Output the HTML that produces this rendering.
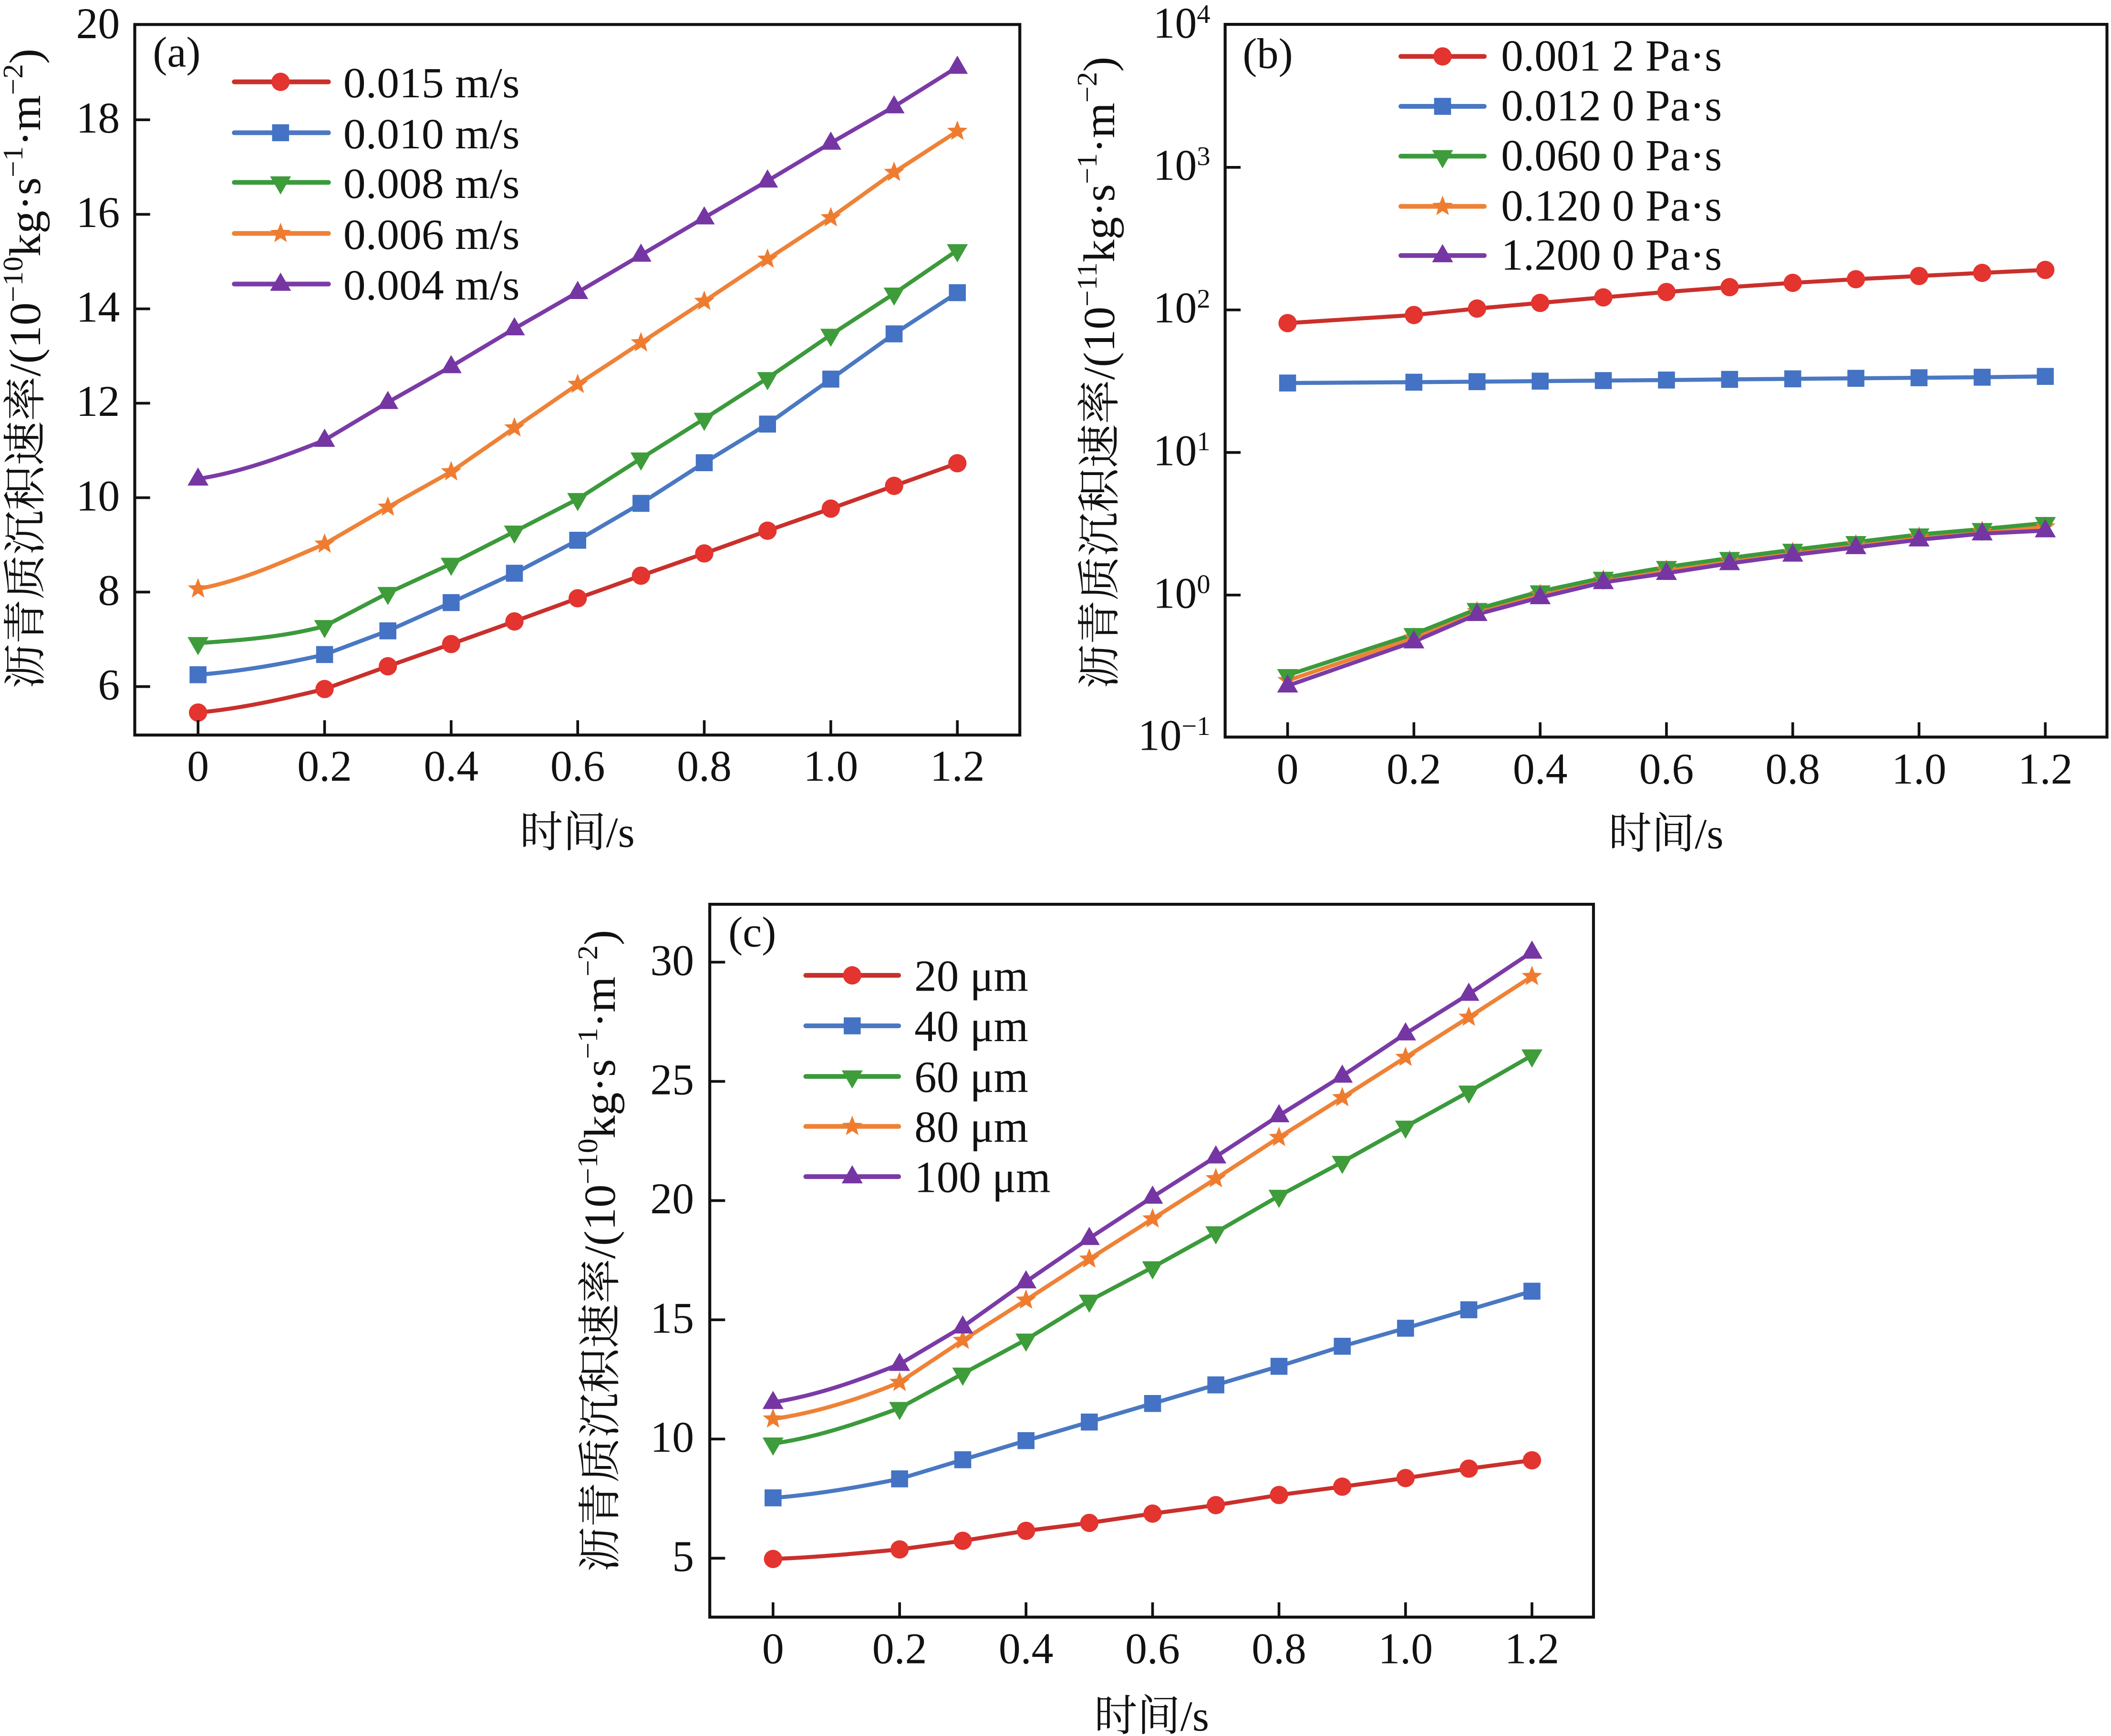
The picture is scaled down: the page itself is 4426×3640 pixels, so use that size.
<!DOCTYPE html>
<html><head><meta charset="utf-8"><style>
html,body{margin:0;padding:0;background:#fff;}
svg{display:block;}
text{font-family:"Liberation Serif","Noto Serif CJK SC",serif;fill:#111;}
</style></head><body>
<svg xmlns="http://www.w3.org/2000/svg" width="4426" height="3640" viewBox="0 0 1568 1289.5" preserveAspectRatio="none">
<defs>
<g id="mr"><circle r="6.8" fill="#e3342f"/></g>
<g id="mb"><rect x="-6.3" y="-6.3" width="12.6" height="12.6" fill="#4472c4"/></g>
<g id="mg"><path d="M-7.8,-4.5L7.8,-4.5L0,9Z" fill="#3e9c3a"/></g>
<g id="mo"><path d="M0,-8L2,-2.75L7.61,-2.47L3.23,1.05L4.7,6.47L0,3.4L-4.7,6.47L-3.23,1.05L-7.61,-2.47L-2,-2.75Z" fill="#ef7b2f"/></g>
<g id="mp"><path d="M0,-8.5L7.8,5L-7.8,5Z" fill="#7535a2"/></g>
</defs>
<rect width="1568" height="1289.5" fill="#fff"/>

<!-- ================= PANEL (a) ================= -->
<g fill="none" stroke-linejoin="round" stroke-linecap="round" stroke-width="3">
<path stroke="#c9302c" d="M147.1,529.3 C178.4,526.4 209.8,519.4 241.1,511.8 L288.1,494.9 335.1,478.4 382.1,461.6 429.1,444.4 476.1,427.6 523.1,411.1 570.1,394.2 617.1,377.8 664.1,360.9 711.1,344.1"/>
<path stroke="#4a78c2" d="M147.1,501.2 C178.4,498.7 209.8,493.4 241.1,486.2 L288.1,468.6 335.1,447.6 382.1,425.8 429.1,401.3 476.1,373.9 523.1,343.7 570.1,315.0 617.1,281.6 664.1,248.0 711.1,217.4"/>
<path stroke="#3b9a3b" d="M147.1,477.7 C178.4,475.6 209.8,473.4 241.1,465.1 L288.1,440.5 335.1,418.8 382.1,394.9 429.1,370.7 476.1,340.6 523.1,311.1 570.1,280.9 617.1,248.7 664.1,218.1 711.1,185.9"/>
<path stroke="#ee8237" d="M147.1,437.4 C178.4,431.9 209.8,417.6 241.1,404.1 L288.1,376.7 335.1,350.4 382.1,317.8 429.1,285.5 476.1,254.6 523.1,223.8 570.1,192.5 617.1,161.7 664.1,128.0 711.1,97.5"/>
<path stroke="#7b3ba6" d="M147.1,355.7 C178.4,350.9 209.8,339.5 241.1,326.9 L288.1,298.8 335.1,272.2 382.1,244.1 429.1,217.1 476.1,189.4 523.1,161.7 570.1,134.3 617.1,106.2 664.1,79.2 711.1,49.8"/>
</g>
<g>
<use href="#mr" x="147.1" y="529.3"/><use href="#mr" x="241.1" y="511.8"/><use href="#mr" x="288.1" y="494.9"/><use href="#mr" x="335.1" y="478.4"/><use href="#mr" x="382.1" y="461.6"/><use href="#mr" x="429.1" y="444.4"/><use href="#mr" x="476.1" y="427.6"/><use href="#mr" x="523.1" y="411.1"/><use href="#mr" x="570.1" y="394.2"/><use href="#mr" x="617.1" y="377.8"/><use href="#mr" x="664.1" y="360.9"/><use href="#mr" x="711.1" y="344.1"/>
<use href="#mb" x="147.1" y="501.2"/><use href="#mb" x="241.1" y="486.2"/><use href="#mb" x="288.1" y="468.6"/><use href="#mb" x="335.1" y="447.6"/><use href="#mb" x="382.1" y="425.8"/><use href="#mb" x="429.1" y="401.3"/><use href="#mb" x="476.1" y="373.9"/><use href="#mb" x="523.1" y="343.7"/><use href="#mb" x="570.1" y="315.0"/><use href="#mb" x="617.1" y="281.6"/><use href="#mb" x="664.1" y="248.0"/><use href="#mb" x="711.1" y="217.4"/>
<use href="#mg" x="147.1" y="477.7"/><use href="#mg" x="241.1" y="465.1"/><use href="#mg" x="288.1" y="440.5"/><use href="#mg" x="335.1" y="418.8"/><use href="#mg" x="382.1" y="394.9"/><use href="#mg" x="429.1" y="370.7"/><use href="#mg" x="476.1" y="340.6"/><use href="#mg" x="523.1" y="311.1"/><use href="#mg" x="570.1" y="280.9"/><use href="#mg" x="617.1" y="248.7"/><use href="#mg" x="664.1" y="218.1"/><use href="#mg" x="711.1" y="185.9"/>
<use href="#mo" x="147.1" y="437.4"/><use href="#mo" x="241.1" y="404.1"/><use href="#mo" x="288.1" y="376.7"/><use href="#mo" x="335.1" y="350.4"/><use href="#mo" x="382.1" y="317.8"/><use href="#mo" x="429.1" y="285.5"/><use href="#mo" x="476.1" y="254.6"/><use href="#mo" x="523.1" y="223.8"/><use href="#mo" x="570.1" y="192.5"/><use href="#mo" x="617.1" y="161.7"/><use href="#mo" x="664.1" y="128.0"/><use href="#mo" x="711.1" y="97.5"/>
<use href="#mp" x="147.1" y="355.7"/><use href="#mp" x="241.1" y="326.9"/><use href="#mp" x="288.1" y="298.8"/><use href="#mp" x="335.1" y="272.2"/><use href="#mp" x="382.1" y="244.1"/><use href="#mp" x="429.1" y="217.1"/><use href="#mp" x="476.1" y="189.4"/><use href="#mp" x="523.1" y="161.7"/><use href="#mp" x="570.1" y="134.3"/><use href="#mp" x="617.1" y="106.2"/><use href="#mp" x="664.1" y="79.2"/><use href="#mp" x="711.1" y="49.8"/>
</g>
<rect x="100.1" y="18.2" width="657.4" height="527.8" fill="none" stroke="#111" stroke-width="2.2"/>
<g stroke="#111" stroke-width="2">
<line x1="100.1" y1="510" x2="111.5" y2="510"/><line x1="100.1" y1="439.8" x2="111.5" y2="439.8"/><line x1="100.1" y1="369.7" x2="111.5" y2="369.7"/><line x1="100.1" y1="299.5" x2="111.5" y2="299.5"/><line x1="100.1" y1="229.4" x2="111.5" y2="229.4"/><line x1="100.1" y1="159.2" x2="111.5" y2="159.2"/><line x1="100.1" y1="89" x2="111.5" y2="89"/>
<line x1="147.1" y1="546" x2="147.1" y2="535"/><line x1="241.1" y1="546" x2="241.1" y2="535"/><line x1="335.1" y1="546" x2="335.1" y2="535"/><line x1="429.1" y1="546" x2="429.1" y2="535"/><line x1="523.1" y1="546" x2="523.1" y2="535"/><line x1="617.1" y1="546" x2="617.1" y2="535"/><line x1="711.1" y1="546" x2="711.1" y2="535"/>
</g>
<g font-size="32.5" text-anchor="end">
<text x="89" y="519.5">6</text><text x="89" y="449.3">8</text><text x="89" y="379.2">10</text><text x="89" y="309">12</text><text x="89" y="238.9">14</text><text x="89" y="168.7">16</text><text x="89" y="98.5">18</text><text x="89" y="28.4">20</text>
</g>
<g font-size="32.5" text-anchor="middle">
<text x="147.1" y="580">0</text><text x="241.1" y="580">0.2</text><text x="335.1" y="580">0.4</text><text x="429.1" y="580">0.6</text><text x="523.1" y="580">0.8</text><text x="617.1" y="580">1.0</text><text x="711.1" y="580">1.2</text>
</g>
<text x="428.8" y="629" font-size="32" text-anchor="middle">时间/s</text>
<text transform="translate(29.7,511.6) rotate(-90)" textLength="475.5" lengthAdjust="spacingAndGlyphs"><tspan font-size="32">沥青质沉积速率</tspan><tspan font-size="33">/(10</tspan><tspan font-size="21" dy="-13">−10</tspan><tspan font-size="33" dy="13">kg·s</tspan><tspan font-size="21" dy="-13">−1</tspan><tspan font-size="33" dy="13">·m</tspan><tspan font-size="21" dy="-13">−2</tspan><tspan font-size="33" dy="13">)</tspan></text>
<text x="113.5" y="49.5" font-size="32">(a)</text>
<g fill="none" stroke-width="3.5" stroke-linecap="round">
<line x1="174" y1="60.8" x2="244" y2="60.8" stroke="#c9302c"/>
<line x1="174" y1="98.6" x2="244" y2="98.6" stroke="#4a78c2"/>
<line x1="174" y1="135.5" x2="244" y2="135.5" stroke="#3b9a3b"/>
<line x1="174" y1="173.4" x2="244" y2="173.4" stroke="#ee8237"/>
<line x1="174" y1="211" x2="244" y2="211" stroke="#7b3ba6"/>
</g>
<use href="#mr" x="208.4" y="60.8"/><use href="#mb" x="208.4" y="98.6"/><use href="#mg" x="208.4" y="135.5"/><use href="#mo" x="208.4" y="173.4"/><use href="#mp" x="208.4" y="211"/>
<g font-size="32">
<text x="255" y="72.3" textLength="131" lengthAdjust="spacingAndGlyphs">0.015 m/s</text>
<text x="255" y="110.1" textLength="131" lengthAdjust="spacingAndGlyphs">0.010 m/s</text>
<text x="255" y="147" textLength="131" lengthAdjust="spacingAndGlyphs">0.008 m/s</text>
<text x="255" y="184.9" textLength="131" lengthAdjust="spacingAndGlyphs">0.006 m/s</text>
<text x="255" y="222.5" textLength="131" lengthAdjust="spacingAndGlyphs">0.004 m/s</text>
</g>

<!-- ================= PANEL (b) ================= -->
<g fill="none" stroke-linejoin="round" stroke-linecap="round" stroke-width="3">
<polyline stroke="#c9302c" points="956.4,240 1050.2,234 1097.1,229.2 1144,225 1190.9,220.9 1237.8,216.9 1284.7,213.3 1331.6,210.1 1378.5,207.4 1425.4,205 1472.3,202.7 1519.2,200.5"/>
<polyline stroke="#4a78c2" points="956.4,284.5 1050.2,283.9 1097.1,283.5 1144,283.1 1190.9,282.7 1237.8,282.3 1284.7,281.8 1331.6,281.4 1378.5,281 1425.4,280.6 1472.3,280.2 1519.2,279.6"/>
<polyline stroke="#ee8237" points="956.4,505.5 1050.2,473.8 1097.1,454.3 1144,441.5 1190.9,430.9 1237.8,423.5 1284.7,416.5 1331.6,410.3 1378.5,404.6 1425.4,398.9 1472.3,394.7 1519.2,391.3"/>
<polyline stroke="#3b9a3b" points="956.4,501.5 1050.2,471 1097.1,452.4 1144,439.3 1190.9,429.2 1237.8,421.2 1284.7,414.5 1331.6,408.4 1378.5,402.7 1425.4,397 1472.3,393 1519.2,388.5"/>
<polyline stroke="#7b3ba6" points="956.4,509.4 1050.2,476.6 1097.1,456.3 1144,443.8 1190.9,432.6 1237.8,425.8 1284.7,418.5 1331.6,412.2 1378.5,406.6 1425.4,400.9 1472.3,396.4 1519.2,394.1"/>
</g>
<g>
<use href="#mr" x="956.4" y="240"/><use href="#mr" x="1050.2" y="234"/><use href="#mr" x="1097.1" y="229.2"/><use href="#mr" x="1144" y="225"/><use href="#mr" x="1190.9" y="220.9"/><use href="#mr" x="1237.8" y="216.9"/><use href="#mr" x="1284.7" y="213.3"/><use href="#mr" x="1331.6" y="210.1"/><use href="#mr" x="1378.5" y="207.4"/><use href="#mr" x="1425.4" y="205"/><use href="#mr" x="1472.3" y="202.7"/><use href="#mr" x="1519.2" y="200.5"/>
<use href="#mb" x="956.4" y="284.5"/><use href="#mb" x="1050.2" y="283.9"/><use href="#mb" x="1097.1" y="283.5"/><use href="#mb" x="1144" y="283.1"/><use href="#mb" x="1190.9" y="282.7"/><use href="#mb" x="1237.8" y="282.3"/><use href="#mb" x="1284.7" y="281.8"/><use href="#mb" x="1331.6" y="281.4"/><use href="#mb" x="1378.5" y="281"/><use href="#mb" x="1425.4" y="280.6"/><use href="#mb" x="1472.3" y="280.2"/><use href="#mb" x="1519.2" y="279.6"/>
<use href="#mo" x="956.4" y="505.5"/><use href="#mo" x="1050.2" y="473.8"/><use href="#mo" x="1097.1" y="454.3"/><use href="#mo" x="1144" y="441.5"/><use href="#mo" x="1190.9" y="430.9"/><use href="#mo" x="1237.8" y="423.5"/><use href="#mo" x="1284.7" y="416.5"/><use href="#mo" x="1331.6" y="410.3"/><use href="#mo" x="1378.5" y="404.6"/><use href="#mo" x="1425.4" y="398.9"/><use href="#mo" x="1472.3" y="394.7"/><use href="#mo" x="1519.2" y="391.3"/>
<use href="#mg" x="956.4" y="501.5"/><use href="#mg" x="1050.2" y="471"/><use href="#mg" x="1097.1" y="452.4"/><use href="#mg" x="1144" y="439.3"/><use href="#mg" x="1190.9" y="429.2"/><use href="#mg" x="1237.8" y="421.2"/><use href="#mg" x="1284.7" y="414.5"/><use href="#mg" x="1331.6" y="408.4"/><use href="#mg" x="1378.5" y="402.7"/><use href="#mg" x="1425.4" y="397"/><use href="#mg" x="1472.3" y="393"/><use href="#mg" x="1519.2" y="388.5"/>
<use href="#mp" x="956.4" y="509.4"/><use href="#mp" x="1050.2" y="476.6"/><use href="#mp" x="1097.1" y="456.3"/><use href="#mp" x="1144" y="443.8"/><use href="#mp" x="1190.9" y="432.6"/><use href="#mp" x="1237.8" y="425.8"/><use href="#mp" x="1284.7" y="418.5"/><use href="#mp" x="1331.6" y="412.2"/><use href="#mp" x="1378.5" y="406.6"/><use href="#mp" x="1425.4" y="400.9"/><use href="#mp" x="1472.3" y="396.4"/><use href="#mp" x="1519.2" y="394.1"/>
</g>
<rect x="910" y="18.1" width="655" height="529.4" fill="none" stroke="#111" stroke-width="2.2"/>
<g stroke="#111" stroke-width="2">
<line x1="910" y1="124.3" x2="921.5" y2="124.3"/><line x1="910" y1="230.2" x2="921.5" y2="230.2"/><line x1="910" y1="336.1" x2="921.5" y2="336.1"/><line x1="910" y1="442" x2="921.5" y2="442"/>
<line x1="956.4" y1="547.5" x2="956.4" y2="536.5"/><line x1="1050.2" y1="547.5" x2="1050.2" y2="536.5"/><line x1="1144" y1="547.5" x2="1144" y2="536.5"/><line x1="1237.8" y1="547.5" x2="1237.8" y2="536.5"/><line x1="1331.6" y1="547.5" x2="1331.6" y2="536.5"/><line x1="1425.4" y1="547.5" x2="1425.4" y2="536.5"/><line x1="1519.2" y1="547.5" x2="1519.2" y2="536.5"/>
</g>
<g font-size="32.5" text-anchor="end">
<text x="899" y="28">10<tspan font-size="20" dy="-11">4</tspan></text>
<text x="899" y="133.5">10<tspan font-size="20" dy="-11">3</tspan></text>
<text x="899" y="239.5">10<tspan font-size="20" dy="-11">2</tspan></text>
<text x="899" y="345.5">10<tspan font-size="20" dy="-11">1</tspan></text>
<text x="899" y="451.5">10<tspan font-size="20" dy="-11">0</tspan></text>
<text x="899" y="557">10<tspan font-size="20" dy="-11">−1</tspan></text>
</g>
<g font-size="32.5" text-anchor="middle">
<text x="956.4" y="582">0</text><text x="1050.2" y="582">0.2</text><text x="1144" y="582">0.4</text><text x="1237.8" y="582">0.6</text><text x="1331.6" y="582">0.8</text><text x="1425.4" y="582">1.0</text><text x="1519.2" y="582">1.2</text>
</g>
<text x="1237.5" y="630" font-size="32" text-anchor="middle">时间/s</text>
<text transform="translate(827.5,511.6) rotate(-90)" textLength="469.5" lengthAdjust="spacingAndGlyphs"><tspan font-size="32">沥青质沉积速率</tspan><tspan font-size="33">/(10</tspan><tspan font-size="21" dy="-13">−11</tspan><tspan font-size="33" dy="13">kg·s</tspan><tspan font-size="21" dy="-13">−1</tspan><tspan font-size="33" dy="13">·m</tspan><tspan font-size="21" dy="-13">−2</tspan><tspan font-size="33" dy="13">)</tspan></text>
<text x="923" y="50.5" font-size="32">(b)</text>
<g fill="none" stroke-width="3.5" stroke-linecap="round">
<line x1="1040.5" y1="41.9" x2="1102.5" y2="41.9" stroke="#c9302c"/>
<line x1="1040.5" y1="79" x2="1102.5" y2="79" stroke="#4a78c2"/>
<line x1="1040.5" y1="116" x2="1102.5" y2="116" stroke="#3b9a3b"/>
<line x1="1040.5" y1="153.3" x2="1102.5" y2="153.3" stroke="#ee8237"/>
<line x1="1040.5" y1="189.8" x2="1102.5" y2="189.8" stroke="#7b3ba6"/>
</g>
<use href="#mr" x="1071.5" y="41.9"/><use href="#mb" x="1071.5" y="79"/><use href="#mg" x="1071.5" y="116"/><use href="#mo" x="1071.5" y="153.3"/><use href="#mp" x="1071.5" y="189.8"/>
<g font-size="33">
<text x="1115" y="52.4" textLength="164" lengthAdjust="spacingAndGlyphs">0.001 2 Pa·s</text>
<text x="1115" y="89.5" textLength="164" lengthAdjust="spacingAndGlyphs">0.012 0 Pa·s</text>
<text x="1115" y="126.5" textLength="164" lengthAdjust="spacingAndGlyphs">0.060 0 Pa·s</text>
<text x="1115" y="163.8" textLength="164" lengthAdjust="spacingAndGlyphs">0.120 0 Pa·s</text>
<text x="1115" y="200.3" textLength="164" lengthAdjust="spacingAndGlyphs">1.200 0 Pa·s</text>
</g>

<!-- ================= PANEL (c) ================= -->
<g fill="none" stroke-linejoin="round" stroke-linecap="round" stroke-width="3">
<path stroke="#c9302c" d="M574.2,1158 C605.5,1156.8 636.9,1153.9 668.2,1150.9 L715.1,1144.5 762.1,1137.1 809.1,1131.2 856.1,1124.3 903.1,1118 950,1110.5 997,1104.3 1044,1097.9 1091,1090.9 1137.9,1084.7"/>
<path stroke="#4a78c2" d="M574.2,1112.6 C605.5,1110.3 636.9,1104.8 668.2,1098.5 L715.1,1084.3 762.1,1070.1 809.1,1056.3 856.1,1042.5 903.1,1028.7 950,1014.9 997,1000 1044,986.6 1091,972.9 1137.9,959.1"/>
<path stroke="#3b9a3b" d="M574.2,1072.3 C605.5,1067.9 636.9,1057.4 668.2,1045.9 L715.1,1020.4 762.1,995.1 809.1,966.2 856.1,941.4 903.1,915.4 950,888.3 997,863.1 1044,836.9 1091,810.9 1137.9,784"/>
<path stroke="#ee8237" d="M574.2,1054 C605.5,1049.5 636.9,1039.8 668.2,1026.8 L715.1,995.6 762.1,965.7 809.1,935.2 856.1,905.4 903.1,875.5 950,844.9 997,815.3 1044,785.4 1091,755.6 1137.9,725.3"/>
<path stroke="#7b3ba6" d="M574.2,1041.6 C605.5,1036.9 636.9,1025.8 668.2,1013.3 L715.1,985.5 762.1,952 809.1,919.8 856.1,889.1 903.1,859.2 950,828.6 997,799.2 1044,767.8 1091,738.4 1137.9,707.1"/>
</g>
<g>
<use href="#mr" x="574.2" y="1158"/><use href="#mr" x="668.2" y="1150.9"/><use href="#mr" x="715.1" y="1144.5"/><use href="#mr" x="762.1" y="1137.1"/><use href="#mr" x="809.1" y="1131.2"/><use href="#mr" x="856.1" y="1124.3"/><use href="#mr" x="903.1" y="1118"/><use href="#mr" x="950" y="1110.5"/><use href="#mr" x="997" y="1104.3"/><use href="#mr" x="1044" y="1097.9"/><use href="#mr" x="1091" y="1090.9"/><use href="#mr" x="1137.9" y="1084.7"/>
<use href="#mb" x="574.2" y="1112.6"/><use href="#mb" x="668.2" y="1098.5"/><use href="#mb" x="715.1" y="1084.3"/><use href="#mb" x="762.1" y="1070.1"/><use href="#mb" x="809.1" y="1056.3"/><use href="#mb" x="856.1" y="1042.5"/><use href="#mb" x="903.1" y="1028.7"/><use href="#mb" x="950" y="1014.9"/><use href="#mb" x="997" y="1000"/><use href="#mb" x="1044" y="986.6"/><use href="#mb" x="1091" y="972.9"/><use href="#mb" x="1137.9" y="959.1"/>
<use href="#mg" x="574.2" y="1072.3"/><use href="#mg" x="668.2" y="1045.9"/><use href="#mg" x="715.1" y="1020.4"/><use href="#mg" x="762.1" y="995.1"/><use href="#mg" x="809.1" y="966.2"/><use href="#mg" x="856.1" y="941.4"/><use href="#mg" x="903.1" y="915.4"/><use href="#mg" x="950" y="888.3"/><use href="#mg" x="997" y="863.1"/><use href="#mg" x="1044" y="836.9"/><use href="#mg" x="1091" y="810.9"/><use href="#mg" x="1137.9" y="784"/>
<use href="#mo" x="574.2" y="1054"/><use href="#mo" x="668.2" y="1026.8"/><use href="#mo" x="715.1" y="995.6"/><use href="#mo" x="762.1" y="965.7"/><use href="#mo" x="809.1" y="935.2"/><use href="#mo" x="856.1" y="905.4"/><use href="#mo" x="903.1" y="875.5"/><use href="#mo" x="950" y="844.9"/><use href="#mo" x="997" y="815.3"/><use href="#mo" x="1044" y="785.4"/><use href="#mo" x="1091" y="755.6"/><use href="#mo" x="1137.9" y="725.3"/>
<use href="#mp" x="574.2" y="1041.6"/><use href="#mp" x="668.2" y="1013.3"/><use href="#mp" x="715.1" y="985.5"/><use href="#mp" x="762.1" y="952"/><use href="#mp" x="809.1" y="919.8"/><use href="#mp" x="856.1" y="889.1"/><use href="#mp" x="903.1" y="859.2"/><use href="#mp" x="950" y="828.6"/><use href="#mp" x="997" y="799.2"/><use href="#mp" x="1044" y="767.8"/><use href="#mp" x="1091" y="738.4"/><use href="#mp" x="1137.9" y="707.1"/>
</g>
<rect x="527.2" y="671.7" width="656.4" height="529.5" fill="none" stroke="#111" stroke-width="2.2"/>
<g stroke="#111" stroke-width="2">
<line x1="527.2" y1="1157.45" x2="538.6" y2="1157.45"/><line x1="527.2" y1="1068.9" x2="538.6" y2="1068.9"/><line x1="527.2" y1="980.35" x2="538.6" y2="980.35"/><line x1="527.2" y1="891.8" x2="538.6" y2="891.8"/><line x1="527.2" y1="803.25" x2="538.6" y2="803.25"/><line x1="527.2" y1="714.7" x2="538.6" y2="714.7"/>
<line x1="574.2" y1="1201.2" x2="574.2" y2="1190.2"/><line x1="668.2" y1="1201.2" x2="668.2" y2="1190.2"/><line x1="762.1" y1="1201.2" x2="762.1" y2="1190.2"/><line x1="856.1" y1="1201.2" x2="856.1" y2="1190.2"/><line x1="950" y1="1201.2" x2="950" y2="1190.2"/><line x1="1044" y1="1201.2" x2="1044" y2="1190.2"/><line x1="1137.9" y1="1201.2" x2="1137.9" y2="1190.2"/>
</g>
<g font-size="32.5" text-anchor="end">
<text x="515.5" y="1167">5</text><text x="515.5" y="1078.4">10</text><text x="515.5" y="989.9">15</text><text x="515.5" y="901.3">20</text><text x="515.5" y="812.8">25</text><text x="515.5" y="724.2">30</text>
</g>
<g font-size="32.5" text-anchor="middle">
<text x="574.2" y="1235.5">0</text><text x="668.2" y="1235.5">0.2</text><text x="762.1" y="1235.5">0.4</text><text x="856.1" y="1235.5">0.6</text><text x="950" y="1235.5">0.8</text><text x="1044" y="1235.5">1.0</text><text x="1137.9" y="1235.5">1.2</text>
</g>
<text x="855.4" y="1285.5" font-size="32" text-anchor="middle">时间/s</text>
<text transform="translate(456.6,1167.7) rotate(-90)" textLength="477" lengthAdjust="spacingAndGlyphs"><tspan font-size="32">沥青质沉积速率</tspan><tspan font-size="33">/(10</tspan><tspan font-size="21" dy="-13">−10</tspan><tspan font-size="33" dy="13">kg·s</tspan><tspan font-size="21" dy="-13">−1</tspan><tspan font-size="33" dy="13">·m</tspan><tspan font-size="21" dy="-13">−2</tspan><tspan font-size="33" dy="13">)</tspan></text>
<text x="541" y="703" font-size="32">(c)</text>
<g fill="none" stroke-width="3.5" stroke-linecap="round">
<line x1="598.5" y1="724.5" x2="667.5" y2="724.5" stroke="#c9302c"/>
<line x1="598.5" y1="762" x2="667.5" y2="762" stroke="#4a78c2"/>
<line x1="598.5" y1="799.6" x2="667.5" y2="799.6" stroke="#3b9a3b"/>
<line x1="598.5" y1="836.7" x2="667.5" y2="836.7" stroke="#ee8237"/>
<line x1="598.5" y1="874" x2="667.5" y2="874" stroke="#7b3ba6"/>
</g>
<use href="#mr" x="633" y="724.5"/><use href="#mb" x="633" y="762"/><use href="#mg" x="633" y="799.6"/><use href="#mo" x="633" y="836.7"/><use href="#mp" x="633" y="874"/>
<g font-size="33">
<text x="679.2" y="735.9">20 μm</text>
<text x="679.2" y="773.4">40 μm</text>
<text x="679.2" y="811">60 μm</text>
<text x="679.2" y="848.1">80 μm</text>
<text x="679.2" y="885.4">100 μm</text>
</g>
</svg>
</body></html>
